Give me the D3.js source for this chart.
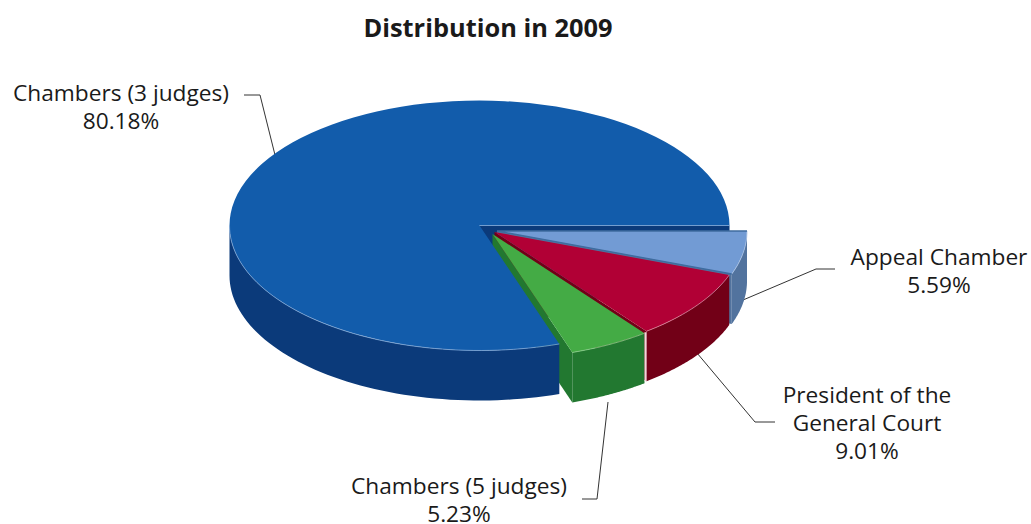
<!DOCTYPE html>
<html><head><meta charset="utf-8">
<script src="https://cdn.jsdelivr.net/npm/d3@7"></script>
<style>
html,body{margin:0;background:#fff}
svg{display:block}
text{font-family:"Open Sans",sans-serif;fill:#1a1a1a}
</style></head><body>
<svg id="chart" width="1031" height="524"></svg>
<script>
// Share of cases by formation, 2009
const categories = ["Appeal Chamber", "President of the General Court", "Chambers (5 judges)", "Chambers (3 judges)"];
const shares = [5.59, 9.01, 5.23, 80.18];
const topColors = ["#729bd4", "#b10035", "#44ab45", "#125cab"];
const sideColors = ["#52739e", "#720017", "#227830", "#0b3a7a"];
const rimColors = ["#a9c1e4", "#e08aa0", "#8fd08f", "#7ea6d6"];
const labelLines = [["Appeal Chamber", "5.59%"], ["President of the", "General Court", "9.01%"], ["Chambers (5 judges)", "5.23%"], ["Chambers (3 judges)", "80.18%"]];
const title = "Distribution in 2009";

// Pie geometry: a tilted disc with some slices pulled out of the centre
const rx = 250, ry = 125, depth = 50;
const hubs = [[497, 231], [494.5, 232], [492.5, 234], [479.5, 225.5]];
const labelAnchors = [[939, 265], [867, 403], [459, 494], [121, 101]];
const leaders = [
  [[835, 269], [816, 269], [743, 300]],
  [[775, 422], [755, 422], [697, 353]],
  [[582, 499], [597, 499], [608, 402]],
  [[244, 95], [260, 95], [275, 155]]
];

const svg = d3.select("#chart");
svg.append("text").attr("x", 488).attr("y", 37).attr("text-anchor", "middle")
  .attr("font-size", 25.4).attr("font-weight", 700).text(title);

const arcs = d3.pie().sort(null).startAngle(Math.PI / 2).endAngle(Math.PI * 2.5)(shares);
const arcGen = d3.arc().innerRadius(0).outerRadius(rx);
const curve = d3.line();

const rimPoint = (i, a, drop = 0) => [hubs[i][0] + rx * Math.sin(a), hubs[i][1] - ry * Math.cos(a) + drop];
const sweep = (from, to) => d3.range(0, 61).map(k => from + (to - from) * k / 60);

// Only the part of the rim facing the viewer has a visible outer wall
const frontSpan = d => [Math.max(d.startAngle, Math.PI / 2), Math.min(d.endAngle, Math.PI * 1.5)];

function cutWall(i, a) {
  const [hx, hy] = hubs[i], p = rimPoint(i, a);
  return curve([[hx, hy], p, [p[0], p[1] + depth], [hx, hy + depth]]) + "Z";
}
function outerWall(i, d) {
  const [a, b] = frontSpan(d), s = sweep(a, b);
  return curve(s.map(t => rimPoint(i, t)).concat(s.slice().reverse().map(t => rimPoint(i, t, depth)))) + "Z";
}
function drawTop(i, d) {
  svg.append("path").attr("d", arcGen(d))
    .attr("transform", `translate(${hubs[i][0]},${hubs[i][1]}) scale(1,${ry / rx})`)
    .attr("fill", topColors[i]);
}
function drawRim(i, d) {
  const [a, b] = frontSpan(d);
  svg.append("path").attr("d", curve(sweep(a, b).map(t => rimPoint(i, t))))
    .attr("fill", "none").attr("stroke", rimColors[i]).attr("stroke-width", 0.8);
}

// Leader lines sit underneath the disc
svg.append("g").selectAll("path").data(leaders).join("path")
  .attr("d", curve).attr("fill", "none").attr("stroke", "#333").attr("stroke-width", 1);

// Inner face of the large slice, seen through the opening
const big = arcs[3];
svg.append("path").attr("d", cutWall(3, big.endAngle)).attr("fill", sideColors[3]);

// Pulled-out slices from back to front
[0, 1, 2].forEach(i => {
  const d = arcs[i];
  svg.append("path").attr("d", outerWall(i, d)).attr("fill", sideColors[i]);
  svg.append("path").attr("d", cutWall(i, d.endAngle)).attr("fill", sideColors[i]);
  drawTop(i, d);
  drawRim(i, d);
});

// Blue edging along the two cut edges of the lightest slice
svg.append("path")
  .attr("d", curve([rimPoint(0, arcs[0].startAngle), hubs[0], rimPoint(0, arcs[0].endAngle)]))
  .attr("fill", "none").attr("stroke", "#3f6c9f").attr("stroke-width", 1.4);

// Pale seam between the red and green outer walls
const seam = rimPoint(1, arcs[1].endAngle);
svg.append("path").attr("d", curve([[seam[0] - 1, seam[1] + 1], [seam[0] - 1, seam[1] + depth]]))
  .attr("fill", "none").attr("stroke", "#f3d5db").attr("stroke-width", 2);

// Large slice goes last so it overlaps the green cut face
svg.append("path").attr("d", outerWall(3, big)).attr("fill", sideColors[3]);
drawTop(3, big);
drawRim(3, big);
svg.append("path").attr("d", curve([hubs[3], rimPoint(3, big.endAngle)]))
  .attr("fill", "none").attr("stroke", rimColors[3]).attr("stroke-width", 0.8);

// Slice captions
svg.append("g").selectAll("text").data(labelLines).join("text")
  .attr("text-anchor", "middle").attr("font-size", 22.7)
  .attr("transform", (d, i) => `translate(${labelAnchors[i][0]},${labelAnchors[i][1]})`)
  .selectAll("tspan").data(d => d).join("tspan")
  .attr("x", 0).attr("dy", (d, i) => i ? 28 : 0).text(d => d);
</script>
</body></html>
